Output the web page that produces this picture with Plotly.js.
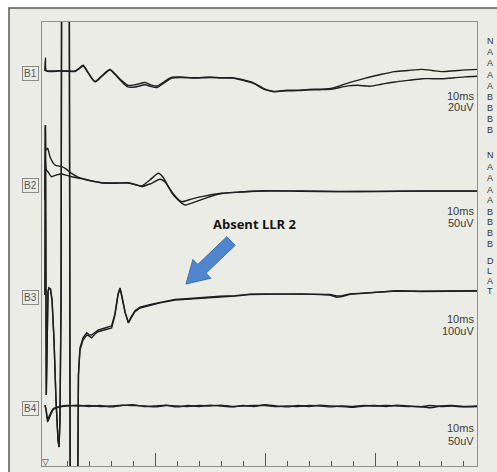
<!DOCTYPE html>
<html>
<head>
<meta charset="utf-8">
<script src="https://cdn.plot.ly/plotly-3.0.1.min.js"></script>
<style>html,body{margin:0;padding:0;background:#fff;}#chart{width:497px;height:472px;}</style>
</head>
<body>
<div id="chart"></div>
<script>
// ---- channel names and sensitivities (uV per division) ----
const channels = ["B1", "B2", "B3", "B4"];
const sensitivity = [20, 50, 100, 50];
const scaleTime = ["10ms", "10ms", "10ms", "10ms"];
const scaleAmp = ["20uV", "50uV", "100uV", "50uV"];

// ---- time (ms) and amplitude (uV) for each sweep ----
const b1aT = [0,0.2,0.5,3,6.8,10,13.6,15.5,17.3,19.5,22.7,25.5,29.5,32,35,37.7,41,45.5,48,50.9,54,57.7,62,68.2,75,80,85,90,95,100,104,110,115,120,125,130.5,134,137.7,142,147.7,153,159,165,171.4,176,180.5,186,191,196.4];
const b1aV = [0,11.8,0.5,0,0.3,-0.2,0,2.5,5.2,-1,-9.4,-5,1.3,-3,-9,-13,-12.5,-10.5,-12.5,-13.6,-10,-5.7,-5.5,-6.1,-5.5,-6,-6.1,-8,-11,-16.4,-18.5,-17.5,-17.5,-16.8,-16.5,-15.7,-13.5,-11,-8.5,-5.5,-3,-0.6,0.5,1.5,0.5,-0.6,0.2,1,1.5];
const b1bT = b1aT;
const b1bV = [0,10,0,-0.5,0,0,-0.5,2,4.5,-1.5,-9.8,-5.5,0.8,-3.5,-10,-14.5,-14.5,-12.5,-14,-15,-11,-6.5,-6,-6.5,-6,-6.4,-6.5,-8.5,-11.5,-17,-18.8,-18,-17.8,-17.2,-17,-16.5,-15,-13.5,-13,-13.8,-12,-10,-8.5,-7,-7,-7,-6.2,-5.3,-4.8];

const b2aT = [0,0.14,0.5,1.2,2.3,4.5,7.6,9.5,12.1,15,18.2,25.8,31.8,37.9,40.9,43.9,47.7,51.5,53.6,56.1,59.1,62.1,65.9,71.2,80.3,88.6,100,115.9,134,152,170.5,196.4];
const b2aV = [-39,127,75,79,59,41,37,32,22,13.6,8.4,0.7,0,0.7,-3.4,-6.8,6.8,22,13.6,-8.4,-29.5,-42.5,-37.5,-31,-23.4,-20.5,-17.5,-18.2,-19.3,-19.3,-18.2,-18.2];
const b2bT = [0,0.2,0.5,1.4,3,5,7.6,9.5,12.1,15,18.2,25.8,31.8,37.9,40.9,43.9,47.7,52.3,55,57.7,60.5,63.6,68.2,72.7,80.3,88.6,100,115.9,134,152,170.5,196.4];
const b2bV = [-39,52,31,25,14.3,18,20.5,18,14.3,11.4,7.7,0.7,-0.5,0,-3.4,-8,-2.3,8.4,0,-22.7,-38.6,-50,-43,-34.8,-24,-20.5,-18.2,-18.8,-19.5,-19,-18.5,-18.4];

const b3aT = [0,0.18,0.59,1,1.36,1.8,2.5,3.2,4.1,5,5.9,6.4,6.8,7.3,7.7,10.9,11.6,14.3,14.8,15.2,15.9,17.3,18.95,20,21.2,22.7,24.1,27.3,30.3,31.8,33.2,34.1,35,36.4,37.9,39.1,40.9,43.2,48.5,52.3,59.1,65.9,71.2,79.5,86.4,93.2,100,106.8,115.9,125,129.5,132.6,135,138.6,147.7,159.9,170.5,184.1,196.4];
const b3aV = [0,773,-455,-159,14,32,27,-23,-205,-477,-659,-691,-568,-23,2250,2250,-1850,-1850,-614,-364,-250,-205,-182,-186,-195,-177,-167,-159,-150,-91,0,32,-5,-77,-127,-105,-76,-59,-45,-36,-23,-18,-12,-9,-5,2,3,5,5,2,0,-10,-7,3,9,19,16,18,18];
const b3bT = b3aT;
const b3bV = [0,773,-455,-159,14,32,27,-23,-205,-477,-659,-691,-568,-23,2250,2250,-1850,-1850,-614,-364,-240,-195,-172,-180,-182,-170,-160,-150,-140,-85,5,30,-8,-80,-125,-100,-72,-55,-42,-33,-20,-16,-11,-6,-3,4,5,6,4,3,2,-4,-3,5,10,18,17,17,19];

const b4aT = [0,0.5,1.2,2,3.8,6.8,10,15,20,25,30,35,40,45,50,55,60,65,70,75,80,85,90,95,100,105,110,115,120,125,130,135,140,145,150,155,160,165,170,175,180,185,190,196.4];
const b4aV = [2,-10,-36,-27,-8,-2,0,2,-1,1,-2,1,3,-1,0,2,-2,1,-1,2,0,-2,1,-1,3,0,-2,1,-1,2,0,-1,-3,0,1,-1,2,0,-2,1,-1,0,-2,-1];
const b4bT = b4aT;
const b4bV = [2,-8,-30,-22,-6,-1,1,0,1,-1,0,2,1,0,-2,1,0,-1,1,0,2,-1,0,1,1,-1,0,-1,1,0,-2,0,-1,1,0,1,0,-1,-1,-4,0,1,-1,0];

// ---- time axis ticks (ms) ----
const majorTicks = [50, 100, 150];
const minorTicks = [10,20,30,40,60,70,80,90,110,120,130,140,160,170,180,190];

// ---- cut-off header text at the right edge ----
const sideText1 = ["N","A","A","A","A","B","B","B","B"];
const sideText2 = ["N","A","A","A","A","B","B","B","B"];
const sideText3 = ["D","L","A","T"];
const noteText = "Absent LLR 2";

// ================= layout geometry (pixels) =================
const W = 497, H = 472;
const L = 42, R = 477, T = 22, B = 466;
const divPx = 22;            // one division
const msPerPx = 10 / divPx;  // 10 ms per division
const x0px = 45;             // stimulus (0 ms)
const baseY = [71, 183, 295, 406];
const px = x => (x - L) / (R - L);
const py = y => (B - y) / (B - T);

const xRange = [(L - x0px) * msPerPx, (R - x0px) * msPerPx];
function yRange(i) {
  const s = sensitivity[i];
  return [-(B - baseY[i]) / divPx * s, (baseY[i] - T) / divPx * s];
}

const sweeps = [
  [b1aT, b1aV, 'y', 0.7], [b1bT, b1bV, 'y', 0.7],
  [b2aT, b2aV, 'y2', 0.6], [b2bT, b2bV, 'y2', 0.6],
  [b3aT, b3aV, 'y3', 0], [b3bT, b3bV, 'y3', 0],
  [b4aT, b4aV, 'y4', 0.6], [b4bT, b4bV, 'y4', 0.6]
];
const data = sweeps.map(s => ({
  x: s[0], y: s[1], yaxis: s[2], xaxis: 'x', type: 'scatter', mode: 'lines',
  line: s[3] > 0 ? {color: '#1e1e1e', width: 1.4, shape: 'spline', smoothing: s[3]}
                 : {color: '#1e1e1e', width: 1.4, shape: 'linear'},
  hoverinfo: 'skip', showlegend: false
}));

const paperFill = '#ecece6';
const annotations = [];
const txtFont = {family: 'Liberation Sans, Arial, sans-serif', size: 11, color: '#3a3a3a'};

channels.forEach((c, i) => {
  annotations.push({xref: 'paper', yref: 'paper', x: px(30.5), y: py(baseY[i] + 2), text: c,
    showarrow: false, xanchor: 'center', yanchor: 'middle',
    font: {family: 'Liberation Sans, Arial, sans-serif', size: 10, color: '#555'},
    bordercolor: '#8a8a8a', borderwidth: 1, borderpad: 1, bgcolor: paperFill});
});
const scaleY = [[96, 107], [211, 223], [319, 331], [428, 441]];
channels.forEach((c, i) => {
  annotations.push({xref: 'paper', yref: 'paper', x: px(476), y: py(scaleY[i][0]), text: scaleTime[i],
    showarrow: false, xanchor: 'right', yanchor: 'middle', font: txtFont});
  annotations.push({xref: 'paper', yref: 'paper', x: px(476), y: py(scaleY[i][1]), text: scaleAmp[i],
    showarrow: false, xanchor: 'right', yanchor: 'middle', font: txtFont});
});
const sideFont = {family: 'Liberation Sans, Arial, sans-serif', size: 9, color: '#333'};
const sideY1 = [41, 52, 63, 75, 86, 97, 108, 119, 130];
const sideY2 = [155, 167, 178, 190, 200, 212, 222, 233, 244];
const sideY3 = [261, 271, 281, 291];
[[sideText1, sideY1], [sideText2, sideY2], [sideText3, sideY3]].forEach(g => {
  g[0].forEach((t, k) => annotations.push({xref: 'paper', yref: 'paper', x: px(486), y: py(g[1][k]),
    text: t, showarrow: false, xanchor: 'left', yanchor: 'middle', font: sideFont, borderpad: 0}));
});
annotations.push({xref: 'paper', yref: 'paper', x: px(255), y: py(224), text: '<b>' + noteText + '</b>',
  showarrow: false, xanchor: 'center', yanchor: 'middle',
  font: {family: 'Open Sans, Liberation Sans, sans-serif', size: 13, color: '#151515'}});
annotations.push({xref: 'paper', yref: 'paper', x: px(45.5), y: py(462), text: '▽',
  showarrow: false, xanchor: 'center', yanchor: 'middle',
  font: {family: 'DejaVu Sans, sans-serif', size: 9, color: '#333'}});

// block arrow polygon
function arrowPath(tail, tip, sw, hw, hl) {
  const dx = tip[0] - tail[0], dy = tip[1] - tail[1];
  const len = Math.hypot(dx, dy), ux = dx / len, uy = dy / len, nx = -uy, ny = ux;
  const bx = tip[0] - hl * ux, by = tip[1] - hl * uy;
  const pts = [
    [tail[0] - sw * nx, tail[1] - sw * ny], [bx - sw * nx, by - sw * ny], [bx - hw * nx, by - hw * ny],
    tip, [bx + hw * nx, by + hw * ny], [bx + sw * nx, by + sw * ny], [tail[0] + sw * nx, tail[1] + sw * ny]
  ];
  return 'M' + pts.map(p => px(p[0]).toFixed(4) + ',' + py(p[1]).toFixed(4)).join(' L') + ' Z';
}

const shapes = [
  {type: 'rect', xref: 'paper', yref: 'paper', x0: px(9), x1: px(510), y0: py(485), y1: py(8),
    fillcolor: paperFill, line: {color: '#5a5a5a', width: 1.5}, layer: 'below'},
  {type: 'path', xref: 'paper', yref: 'paper', path: arrowPath([231, 241], [186, 284], 6, 13, 22),
    fillcolor: '#4f86cf', line: {color: '#3d6fb0', width: 1}}
];

const axBase = {domain: [0, 1], showgrid: false, zeroline: false, showticklabels: false, ticks: ''};
const layout = {
  width: W, height: H,
  margin: {l: L, r: W - R, t: T, b: H - B, pad: 0},
  paper_bgcolor: '#ffffff', plot_bgcolor: 'rgba(0,0,0,0)',
  showlegend: false,
  xaxis: {range: xRange, showgrid: false, zeroline: false, showticklabels: false,
    showline: true, mirror: true, linecolor: '#8f8f8f', linewidth: 1,
    ticks: 'inside', tickmode: 'array', tickvals: majorTicks, ticklen: 13, tickcolor: '#555', tickwidth: 1,
    minor: {ticks: 'inside', tickmode: 'array', tickvals: minorTicks, ticklen: 5, tickcolor: '#555', tickwidth: 1}},
  yaxis: Object.assign({}, axBase, {range: yRange(0), showline: true, mirror: true, linecolor: '#8f8f8f', linewidth: 1}),
  yaxis2: Object.assign({}, axBase, {range: yRange(1), overlaying: 'y', visible: false}),
  yaxis3: Object.assign({}, axBase, {range: yRange(2), overlaying: 'y', visible: false}),
  yaxis4: Object.assign({}, axBase, {range: yRange(3), overlaying: 'y', visible: false}),
  annotations: annotations,
  shapes: shapes
};

Plotly.newPlot('chart', data, layout, {staticPlot: true, displayModeBar: false});
</script>
</body>
</html>
